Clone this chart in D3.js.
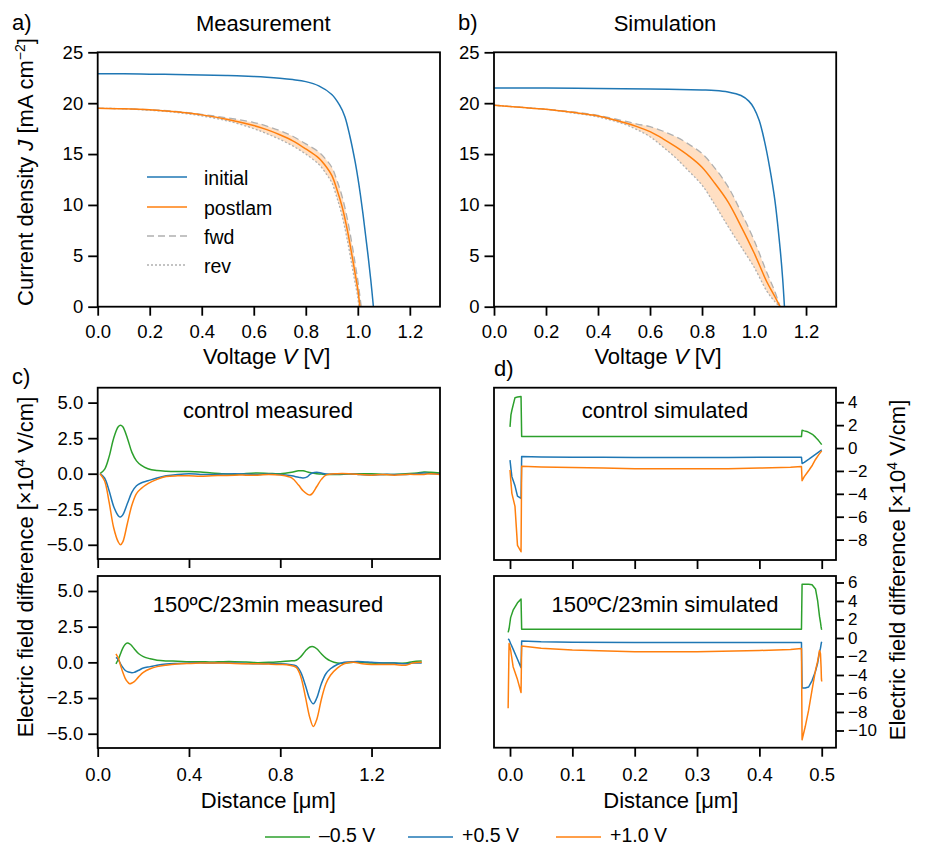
<!DOCTYPE html>
<html><head><meta charset="utf-8">
<script src="https://cdn.jsdelivr.net/npm/d3@7"></script>
<style>
body{margin:0;background:#fff}
text{font-family:"Liberation Sans",Arial,Helvetica,sans-serif;fill:#000}
</style>
</head><body>
<svg id="chart" width="925" height="846"></svg>
<script>
// ---------------- DATA ----------------
// Panel a: measured J-V
const measInitialV = [0,0.1,0.2,0.3,0.4,0.5,0.6,0.65,0.7,0.75,0.8,0.85,0.9,0.93,0.95,0.97,0.99,1.0,1.01,1.02,1.03,1.04,1.05,1.06];
const measInitialJ = [22.9,22.88,22.85,22.82,22.78,22.72,22.63,22.56,22.46,22.32,22.12,21.7,20.85,19.8,18.7,16.7,14.2,12.7,11.0,9.1,7.0,4.9,2.6,0];
const measPostV = [0,0.1,0.2,0.3,0.4,0.5,0.6,0.65,0.7,0.75,0.8,0.85,0.88,0.9,0.92,0.94,0.96,0.98,0.99,1.0,1.008];
const measPostJ = [19.5,19.45,19.35,19.15,18.85,18.4,17.8,17.4,16.9,16.3,15.5,14.6,13.7,12.9,11.5,9.8,7.5,4.7,3.2,1.7,0];
const measFwdV = [0,0.1,0.2,0.3,0.4,0.5,0.6,0.65,0.7,0.75,0.8,0.85,0.88,0.9,0.92,0.94,0.96,0.98,0.99,1.0,1.013];
const measFwdJ = [19.5,19.45,19.35,19.2,18.9,18.55,18.1,17.75,17.3,16.75,16.0,15.2,14.4,13.7,12.4,10.8,8.6,5.8,4.2,2.6,0];
const measRevV = [0,0.1,0.2,0.3,0.4,0.5,0.6,0.65,0.7,0.75,0.8,0.85,0.88,0.9,0.92,0.94,0.96,0.98,0.99,1.0,1.004];
const measRevJ = [19.5,19.45,19.3,19.1,18.75,18.25,17.5,17.0,16.45,15.8,15.0,14.0,13.0,12.2,10.7,8.9,6.5,3.7,2.3,0.9,0];

// Panel b: simulated J-V
const simInitialV = [0,0.2,0.4,0.6,0.8,0.85,0.9,0.95,0.98,1.0,1.02,1.04,1.06,1.08,1.1,1.11,1.117];
const simInitialJ = [21.5,21.48,21.45,21.4,21.3,21.25,21.1,20.75,20.2,19.5,18.3,16.3,13.7,10.5,5.8,2.8,0];
const simV = [0,0.1,0.2,0.3,0.4,0.5,0.55,0.6,0.65,0.7,0.75,0.8,0.85,0.9,0.95,1.0,1.05,1.08,1.1];
const simPostJ = [19.8,19.6,19.4,19.1,18.75,18.1,17.7,17.2,16.5,15.7,14.8,13.7,12.1,10.3,7.9,5.3,2.4,1.0,0];
const simFwdJ  = [19.8,19.6,19.4,19.15,18.8,18.25,17.95,17.7,17.25,16.7,15.95,15.05,13.6,11.8,9.3,6.55,3.3,1.5,0];
const simRevJ  = [19.8,19.6,19.4,19.05,18.65,17.95,17.4,16.7,15.7,14.6,13.3,11.95,10.0,7.9,5.9,3.9,1.5,0.5,0];

// Panel c (top): control measured
const ctrlMeasX = [0.01,0.03,0.05,0.07,0.09,0.10,0.11,0.13,0.15,0.17,0.19,0.22,0.26,0.30,0.35,0.40,0.45,0.50,0.55,0.60,0.65,0.70,0.75,0.80,0.85,0.88,0.90,0.92,0.93,0.94,0.96,0.98,1.00,1.05,1.10,1.15,1.20,1.25,1.30,1.35,1.40,1.43,1.46,1.50];
const ctrlMeasNeg05 = [0,0.3,1.2,2.5,3.3,3.4,3.3,2.5,1.5,0.9,0.6,0.35,0.22,0.17,0.15,0.15,0.12,0.05,0,-0.05,0.02,0.05,0.02,0,0.1,0.2,0.2,0.12,0.08,0.05,0,-0.02,-0.05,-0.05,-0.02,0,0,-0.05,-0.05,0,0.05,0.12,0.1,0.05];
const ctrlMeasPos05 = [0,-0.3,-1.2,-2.3,-2.95,-3.05,-2.9,-2.1,-1.3,-0.85,-0.65,-0.5,-0.3,-0.15,-0.05,0,-0.05,-0.05,-0.02,0,-0.02,-0.05,-0.02,-0.05,-0.15,-0.25,-0.3,-0.2,-0.05,0.05,0.1,0.05,-0.02,-0.02,0,-0.05,-0.1,-0.05,-0.05,-0.05,0,0.05,0,0];
const ctrlMeasPos10 = [0,-0.5,-2.0,-3.8,-4.8,-5.0,-4.8,-3.5,-2.2,-1.4,-1.05,-0.7,-0.4,-0.2,-0.15,-0.15,-0.18,-0.15,-0.12,-0.1,-0.1,-0.1,-0.05,-0.1,-0.3,-0.8,-1.2,-1.45,-1.5,-1.4,-0.9,-0.4,-0.1,0,0,-0.05,-0.1,-0.05,-0.1,-0.05,-0.05,-0.05,0,-0.05];

// Panel c (bottom): 150ºC/23min measured
const annMeasX = [0.08,0.09,0.10,0.11,0.12,0.13,0.14,0.15,0.16,0.18,0.20,0.23,0.26,0.30,0.35,0.40,0.45,0.50,0.55,0.60,0.65,0.70,0.75,0.80,0.84,0.87,0.89,0.91,0.93,0.945,0.96,0.98,1.00,1.02,1.05,1.08,1.12,1.16,1.20,1.25,1.30,1.35,1.38,1.42];
const annMeasNeg05 = [-0.1,0.2,0.6,1.0,1.25,1.35,1.3,1.15,0.95,0.6,0.4,0.25,0.15,0.1,0.08,0.05,0.05,0.02,0.05,0.05,0.02,-0.02,0,0.05,0.1,0.15,0.4,0.8,1.08,1.1,0.95,0.6,0.3,0.1,-0.05,-0.05,0,0,-0.05,-0.05,-0.05,-0.05,0.05,0.1];
const annMeasPos05 = [0.35,0.2,-0.1,-0.35,-0.55,-0.65,-0.7,-0.72,-0.7,-0.55,-0.4,-0.3,-0.2,-0.12,-0.08,-0.05,-0.03,-0.05,-0.02,-0.05,-0.08,-0.1,-0.08,-0.1,-0.15,-0.25,-0.7,-1.6,-2.6,-2.9,-2.5,-1.5,-0.8,-0.45,-0.15,0,0.05,0.05,0,-0.05,-0.05,-0.1,-0.05,-0.05];
const annMeasPos10 = [0.6,0.3,-0.2,-0.7,-1.1,-1.35,-1.5,-1.45,-1.35,-1.0,-0.7,-0.45,-0.3,-0.2,-0.12,-0.08,-0.05,-0.05,-0.05,-0.08,-0.1,-0.1,-0.12,-0.15,-0.2,-0.35,-1.0,-2.4,-3.9,-4.5,-4.0,-2.6,-1.5,-0.9,-0.4,-0.1,0,-0.1,-0.15,-0.15,-0.15,-0.2,-0.05,0];

// Panel d (top): control simulated
const ctrlSimX = [0,0.0015,0.003,0.008,0.012,0.0177,0.0187,0.05,0.1,0.15,0.2,0.25,0.3,0.35,0.4,0.45,0.4675,0.4685,0.472,0.476,0.48,0.485,0.49,0.495,0.5];
const ctrlSimNeg05 = [1.85,2.9,3.3,4.4,4.45,4.5,1.0,1.0,1.0,1.0,1.0,1.0,1.0,1.0,1.0,1.0,1.0,1.55,1.5,1.45,1.35,1.2,0.95,0.65,0.3];
const ctrlSimPos05 = [-1.05,-1.8,-2.5,-3.3,-4.2,-4.4,-0.75,-0.78,-0.8,-0.8,-0.82,-0.82,-0.82,-0.82,-0.8,-0.8,-0.8,-1.35,-1.25,-1.1,-0.95,-0.75,-0.55,-0.35,-0.15];
const ctrlSimPos10 = [-1.92,-3.0,-3.96,-5.1,-8.5,-9.06,-1.6,-1.65,-1.7,-1.75,-1.8,-1.82,-1.82,-1.8,-1.75,-1.68,-1.62,-2.85,-2.5,-2.2,-1.9,-1.5,-1.0,-0.6,-0.25];

// Panel d (bottom): 150ºC/23min simulated
const annSimX = [-0.003,-0.0015,0.001,0.005,0.012,0.0177,0.0187,0.05,0.1,0.2,0.3,0.4,0.45,0.4675,0.4685,0.4735,0.479,0.4845,0.49,0.4935,0.4965,0.498,0.499,0.4995,0.5];
const annSimNeg05 = [0.6,1.0,2.2,3.0,3.8,4.2,0.94,0.94,0.94,0.94,0.94,0.94,0.94,0.94,5.8,5.8,5.8,5.75,5.3,4.0,2.3,1.7,1.2,1.0,0.9];
const annSimPos05 = [-0.1,-0.2,-0.6,-1.2,-2.3,-3.2,-0.32,-0.4,-0.45,-0.5,-0.5,-0.5,-0.5,-0.5,-5.4,-5.4,-5.3,-4.6,-3.6,-2.7,-1.5,-1.1,-0.7,-0.5,-0.4];
const annSimPos10 = [-7.6,-0.6,-1.3,-3.1,-4.5,-5.9,-0.86,-1.1,-1.3,-1.5,-1.5,-1.35,-1.25,-1.15,-11.0,-9.6,-7.8,-5.6,-3.5,-2.5,-1.35,-1.7,-3.2,-4.4,-4.7];

// Tick values
const jvXTicks = [0,0.2,0.4,0.6,0.8,1.0,1.2];
const jvYTicks = [0,5,10,15,20,25];
const measXTicks = [0,0.4,0.8,1.2];
const measYTicks = [-5,-2.5,0,2.5,5];
const simXTicks = [0,0.1,0.2,0.3,0.4,0.5];
const ctrlSimYTicks = [-8,-6,-4,-2,0,2,4];
const annSimYTicks = [-10,-8,-6,-4,-2,0,2,4,6];

const biasLabels = ["\u20130.5 V","+0.5 V","+1.0 V"];
const jvLegend = ["initial","postlam","fwd","rev"];

// ---------------- DRAWING ----------------
const COL = {green:"#2ca02c", blue:"#1f77b4", orange:"#ff7f0e", gray:"#b0b0b0"};
const TICKFS = 18.5, LABFS = 22, SW = 1.5, BOX = 1.8;
const svg = d3.select("#chart");
let clipId = 0;

function panel(box, xd, yd) {
  const x = d3.scaleLinear(xd, [box.x0, box.x1]);
  const y = d3.scaleLinear(yd, [box.y1, box.y0]);
  const id = "clip" + (clipId++);
  svg.append("clipPath").attr("id", id).append("rect")
    .attr("x", box.x0).attr("y", box.y0).attr("width", box.x1 - box.x0).attr("height", box.y1 - box.y0);
  const g = svg.append("g").attr("clip-path", `url(#${id})`);
  return {x, y, g, box};
}
function frame(p) {
  svg.append("rect").attr("x", p.box.x0).attr("y", p.box.y0)
    .attr("width", p.box.x1 - p.box.x0).attr("height", p.box.y1 - p.box.y0)
    .attr("fill", "none").attr("stroke", "#000").attr("stroke-width", BOX);
}
function styleAxis(sel, showText, fs) {
  sel.select(".domain").remove();
  sel.selectAll(".tick line").attr("stroke", "#000").attr("stroke-width", BOX);
  sel.selectAll(".tick text").attr("font-size", fs || TICKFS).attr("font-family", "Liberation Sans, Arial, sans-serif").attr("fill", "#000");
  if (!showText) sel.selectAll(".tick text").remove();
  sel.attr("font-size", null).attr("font-family", null);
}
function bottomAxis(p, ticks, fmt, showText, pad) {
  const a = svg.append("g").attr("transform", `translate(0,${p.box.y1})`)
    .call(d3.axisBottom(p.x).tickValues(ticks).tickFormat(fmt).tickSize(9).tickPadding(pad).tickSizeOuter(0));
  styleAxis(a, showText);
}
function leftAxis(p, ticks, fmt) {
  const a = svg.append("g").attr("transform", `translate(${p.box.x0},0)`)
    .call(d3.axisLeft(p.y).tickValues(ticks).tickFormat(fmt).tickSize(9.5).tickPadding(5).tickSizeOuter(0));
  styleAxis(a, true);
}
function rightAxis(p, ticks, fmt) {
  const a = svg.append("g").attr("transform", `translate(${p.box.x1},0)`)
    .call(d3.axisRight(p.y).tickValues(ticks).tickFormat(fmt).tickSize(8).tickPadding(4).tickSizeOuter(0));
  styleAxis(a, true, 17);
}
function drawLine(p, xs, ys, color, curve, extra) {
  const line = d3.line().x(d => p.x(d[0])).y(d => p.y(d[1])).curve(curve);
  const path = p.g.append("path").attr("d", line(xs.map((v, i) => [v, ys[i]])))
    .attr("fill", "none").attr("stroke", color).attr("stroke-width", SW).attr("stroke-linejoin", "round");
  if (extra) extra(path);
  return path;
}
function band(p, xa, ya, xb, yb) {
  const line = d3.line().x(d => p.x(d[0])).y(d => p.y(d[1])).curve(d3.curveCatmullRom);
  const A = xa.map((v, i) => [v, ya[i]]);
  const B = xb.map((v, i) => [v, yb[i]]).reverse();
  p.g.append("path").attr("d", line(A) + line(B).replace(/^M/, "L") + "Z")
    .attr("fill", COL.orange).attr("fill-opacity", 0.25).attr("stroke", "none");
}
function text(x, y, s, size, anchor) {
  return svg.append("text").attr("x", x).attr("y", y).attr("font-size", size)
    .attr("text-anchor", anchor || "start").text(s);
}

const f1 = d3.format(".1f"), f0 = d3.format("d");
const dashFwd = pth => pth.attr("stroke", COL.gray).attr("stroke-width", 1.3).attr("stroke-dasharray", "7,4");
const dashRev = pth => pth.attr("stroke", COL.gray).attr("stroke-width", 1.3).attr("stroke-dasharray", "2,2");

// ---- Panel a ----
const pa = panel({x0:97.7, x1:440, y0:52.3, y1:306.7}, [0, 1.316], [0, 25]);
band(pa, measFwdV, measFwdJ, measRevV, measRevJ);
drawLine(pa, measFwdV, measFwdJ, COL.gray, d3.curveCatmullRom, dashFwd);
drawLine(pa, measRevV, measRevJ, COL.gray, d3.curveCatmullRom, dashRev);
drawLine(pa, measPostV, measPostJ, COL.orange, d3.curveCatmullRom);
drawLine(pa, measInitialV, measInitialJ, COL.blue, d3.curveCatmullRom);
frame(pa);
bottomAxis(pa, jvXTicks, f1, true, 9);
leftAxis(pa, jvYTicks, f0);

// legend in a
const legY = [177, 207, 236, 265];
const legStyles = [
  s => s.attr("stroke", COL.blue).attr("stroke-width", SW),
  s => s.attr("stroke", COL.orange).attr("stroke-width", SW),
  s => s.attr("stroke", COL.gray).attr("stroke-width", 1.3).attr("stroke-dasharray", "7,4"),
  s => s.attr("stroke", COL.gray).attr("stroke-width", 1.3).attr("stroke-dasharray", "2,2")
];
jvLegend.forEach((lab, i) => {
  const l = svg.append("line").attr("x1", 147).attr("x2", 187).attr("y1", legY[i]).attr("y2", legY[i]);
  legStyles[i](l);
  text(204, legY[i] + 7.5, lab, 19.5);
});

// ---- Panel b ----
const pb = panel({x0:494, x1:836.2, y0:52.3, y1:306.7}, [0, 1.316], [0, 25]);
band(pb, simV, simFwdJ, simV, simRevJ);
drawLine(pb, simV, simFwdJ, COL.gray, d3.curveCatmullRom, dashFwd);
drawLine(pb, simV, simRevJ, COL.gray, d3.curveCatmullRom, dashRev);
drawLine(pb, simV, simPostJ, COL.orange, d3.curveCatmullRom);
drawLine(pb, simInitialV, simInitialJ, COL.blue, d3.curveCatmullRom);
frame(pb);
bottomAxis(pb, jvXTicks, f1, true, 9);
leftAxis(pb, jvYTicks, f0);

// ---- Panel c top ----
const pc1 = panel({x0:97.7, x1:440, y0:387.7, y1:559}, [0, 1.5], [-6, 6.05]);
drawLine(pc1, ctrlMeasX, ctrlMeasNeg05, COL.green, d3.curveCatmullRom);
drawLine(pc1, ctrlMeasX, ctrlMeasPos05, COL.blue, d3.curveCatmullRom);
drawLine(pc1, ctrlMeasX, ctrlMeasPos10, COL.orange, d3.curveCatmullRom);
frame(pc1);
bottomAxis(pc1, measXTicks, f1, false, 9);
leftAxis(pc1, measYTicks, f1);

// ---- Panel c bottom ----
const pc2 = panel({x0:97.7, x1:440, y0:576, y1:748}, [0, 1.5], [-6, 6.05]);
drawLine(pc2, annMeasX, annMeasNeg05, COL.green, d3.curveCatmullRom);
drawLine(pc2, annMeasX, annMeasPos05, COL.blue, d3.curveCatmullRom);
drawLine(pc2, annMeasX, annMeasPos10, COL.orange, d3.curveCatmullRom);
frame(pc2);
bottomAxis(pc2, measXTicks, f1, true, 11);
leftAxis(pc2, measYTicks, f1);

// ---- Panel d top ----
const pd1 = panel({x0:494, x1:836, y0:387.7, y1:560}, [-0.02567, 0.5229], [-9.78, 5.27]);
drawLine(pd1, ctrlSimX, ctrlSimNeg05, COL.green, d3.curveLinear);
drawLine(pd1, ctrlSimX, ctrlSimPos05, COL.blue, d3.curveLinear);
drawLine(pd1, ctrlSimX, ctrlSimPos10, COL.orange, d3.curveLinear);
frame(pd1);
bottomAxis(pd1, simXTicks, f1, false, 9);
rightAxis(pd1, ctrlSimYTicks, f0);

// ---- Panel d bottom ----
const pd2 = panel({x0:494, x1:836, y0:576, y1:747.7}, [-0.02567, 0.5229], [-11.86, 6.7]);
drawLine(pd2, annSimX, annSimNeg05, COL.green, d3.curveLinear);
drawLine(pd2, annSimX, annSimPos05, COL.blue, d3.curveLinear);
drawLine(pd2, annSimX, annSimPos10, COL.orange, d3.curveLinear);
frame(pd2);
bottomAxis(pd2, simXTicks, f1, true, 11);
rightAxis(pd2, annSimYTicks, f0);

// ---- Titles, panel letters, inner labels ----
text(263.3, 31, "Measurement", 22, "middle");
text(665, 31, "Simulation", 22, "middle");
text(12, 30, "a)", 22);
text(458, 30, "b)", 22);
text(12, 384, "c)", 22);
text(494, 376, "d)", 22);
text(268, 418, "control measured", 22, "middle");
text(665, 418, "control simulated", 22, "middle");
text(268, 611.5, "150\u00baC/23min measured", 22, "middle");
text(665, 611.5, "150\u00baC/23min simulated", 22, "middle");

// axis titles
function voltLabel(cx, y) {
  const t = svg.append("text").attr("x", cx).attr("y", y).attr("font-size", LABFS).attr("text-anchor", "middle");
  t.append("tspan").text("Voltage ");
  t.append("tspan").attr("font-style", "italic").text("V");
  t.append("tspan").text(" [V]");
}
voltLabel(266.7, 364);
voltLabel(658, 364);
text(268.3, 808, "Distance [\u03bcm]", LABFS, "middle");
text(670.8, 808, "Distance [\u03bcm]", LABFS, "middle");

// rotated y labels
const jl = svg.append("text").attr("transform", "translate(33,172) rotate(-90)").attr("font-size", LABFS).attr("text-anchor", "middle");
jl.append("tspan").text("Current density ");
jl.append("tspan").attr("font-style", "italic").text("J");
jl.append("tspan").text(" [mA cm");
jl.append("tspan").attr("font-size", 14).attr("dy", -8).text("\u22122");
jl.append("tspan").attr("dy", 8).text("]");

function efLabel(tx, ty) {
  const t = svg.append("text").attr("transform", `translate(${tx},${ty}) rotate(-90)`).attr("font-size", LABFS).attr("text-anchor", "middle");
  t.append("tspan").text("Electric field difference [\u00d710");
  t.append("tspan").attr("font-size", 14).attr("dy", -8).text("4");
  t.append("tspan").attr("dy", 8).text(" V/cm]");
}
efLabel(32.5, 567);
efLabel(905, 570);

// bottom legend
const biasColors = [COL.green, COL.blue, COL.orange];
const legX = [265, 408, 556];
biasLabels.forEach((lab, i) => {
  svg.append("line").attr("x1", legX[i]).attr("x2", legX[i] + 45).attr("y1", 837).attr("y2", 837)
    .attr("stroke", biasColors[i]).attr("stroke-width", SW);
  text(legX[i] + 54, 842, lab, 19.5);
});
</script>
</body></html>
